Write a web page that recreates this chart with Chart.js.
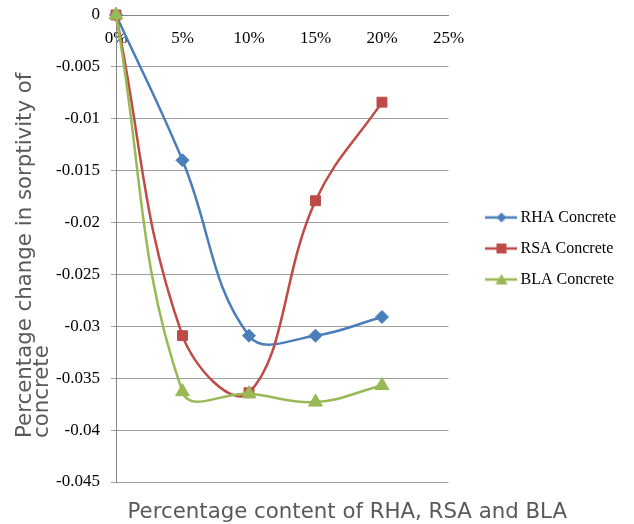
<!DOCTYPE html>
<html>
<head>
<meta charset="utf-8">
<script src="https://cdn.jsdelivr.net/npm/chart.js@4/dist/chart.umd.min.js"></script>
<style>
  html, body { margin: 0; padding: 0; background: #ffffff; }
  #wrap { width: 634px; height: 524px; }
</style>
</head>
<body>
<div id="wrap"><canvas id="c" width="634" height="524"></canvas></div>
<script>
// ---- data ----
const categories = ['0%', '5%', '10%', '15%', '20%', '25%'];
const seriesNames = ['RHA Concrete', 'RSA Concrete', 'BLA Concrete'];
const rhaValues = [0, -0.0140, -0.0309, -0.0309, -0.0291];
const rsaValues = [0, -0.0309, -0.0364, -0.0179, -0.0084];
const blaValues = [0, -0.0363, -0.0365, -0.0373, -0.0357];
const yAxisTitle = ['Percentage change in sorptivity of', 'concrete'];
const xAxisTitle = 'Percentage content of RHA, RSA and BLA';

const colors = ['#4A7EBB', '#BE4B48', '#98B954'];
const shapes = ['rectRot', 'rect', 'triangle'];
const radii = [6.5, 7, 8];

function legendIcon(color, shape) {
  const cv = document.createElement('canvas');
  cv.width = 32; cv.height = 14;
  const g = cv.getContext('2d');
  g.strokeStyle = color; g.lineWidth = 2.5;
  g.beginPath(); g.moveTo(0, 7); g.lineTo(32, 7); g.stroke();
  g.fillStyle = color;
  g.beginPath();
  if (shape === 'rectRot') {
    g.moveTo(16, 2); g.lineTo(21, 7); g.lineTo(16, 12); g.lineTo(11, 7);
  } else if (shape === 'rect') {
    g.rect(11, 2, 10, 10);
  } else {
    g.moveTo(16, 1.5); g.lineTo(22, 12); g.lineTo(10, 12);
  }
  g.closePath(); g.fill();
  return cv;
}

const valueSets = [rhaValues, rsaValues, blaValues];
const datasets = valueSets.map((vals, i) => ({
  label: seriesNames[i],
  data: vals,
  borderColor: colors[i],
  backgroundColor: colors[i],
  pointBackgroundColor: colors[i],
  pointBorderColor: colors[i],
  pointBorderWidth: 1,
  pointStyle: shapes[i],
  pointRadius: radii[i],
  borderWidth: 2.5,
  tension: 0.4,
  fill: false,
  clip: false,
  order: 3 - i
}));
const icons = colors.map((c, i) => legendIcon(c, shapes[i]));

const axisTitlesPlugin = {
  id: 'axisTitlesPlugin',
  afterDraw(chart) {
    const ctx = chart.ctx;
    const area = chart.chartArea;
    ctx.save();
    ctx.fillStyle = '#595959';
    ctx.textBaseline = 'alphabetic';
    // x-axis title
    ctx.font = '21.3px "DejaVu Sans"';
    ctx.textAlign = 'left';
    ctx.fillText(xAxisTitle, area.left + 11.5, area.bottom + 36);
    // y-axis title (two left-aligned rotated lines)
    yAxisTitle.forEach((line, i) => {
      ctx.save();
      ctx.translate(area.left - 85 + i * 17, area.bottom - 44);
      ctx.rotate(-Math.PI / 2);
      ctx.textAlign = 'left';
      ctx.fillText(line, 0, 0);
      ctx.restore();
    });
    ctx.restore();
  }
};

function fixVertical(width) {
  return (s) => { s.width = width; s.paddingTop = 0; s.paddingBottom = 0; };
}

new Chart(document.getElementById('c'), {
  type: 'line',
  data: { labels: categories, datasets: datasets },
  plugins: [axisTitlesPlugin],
  options: {
    responsive: false,
    animation: false,
    layout: { padding: { top: 15, bottom: 42, left: 0, right: 8 } },
    plugins: {
      tooltip: { enabled: false },
      legend: {
        position: 'right',
        align: 'center',
        maxWidth: 220,
        labels: {
          usePointStyle: true,
          pointStyleWidth: 22,
          boxHeight: 14,
          padding: 15,
          color: '#000000',
          font: { family: '"Liberation Serif"', size: 16 },
          sort: (a, b) => a.datasetIndex - b.datasetIndex,
          generateLabels: (chart) => chart.data.datasets.map((ds, i) => ({
            text: ds.label,
            datasetIndex: i,
            pointStyle: icons[i],
            fillStyle: colors[i],
            strokeStyle: colors[i],
            lineWidth: 0,
            hidden: false,
            fontColor: '#000000'
          }))
        }
      }
    },
    scales: {
      x: {
        type: 'category',
        position: { y: 0 },
        offset: false,
        grid: { display: true, drawOnChartArea: false, drawTicks: false },
        border: { display: true, color: '#868686', width: 1 },
        ticks: {
          color: '#000000',
          padding: 13,
          maxRotation: 0,
          autoSkip: false,
          font: { family: '"Liberation Serif"', size: 17 }
        }
      },
      y: {
        min: -0.045,
        max: 0,
        position: 'left',
        afterFit: fixVertical(116),
        grid: { color: '#A0A0A0', lineWidth: 1, tickLength: 5 },
        border: { display: true, color: '#868686', width: 1 },
        ticks: {
          stepSize: 0.005,
          color: '#000000',
          padding: 11,
          font: { family: '"Liberation Serif"', size: 17 },
          callback: (v) => String(Number(Number(v).toFixed(4)))
        }
      },
      y2: {
        position: 'right',
        display: true,
        afterFit: fixVertical(27),
        grid: { display: false },
        border: { display: false },
        ticks: { display: false }
      }
    }
  }
});
</script>
</body>
</html>
